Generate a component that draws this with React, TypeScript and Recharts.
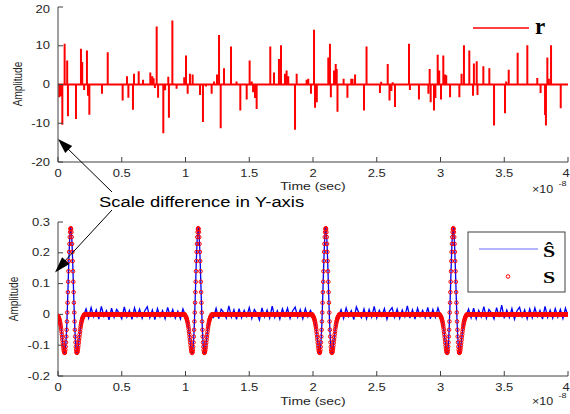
import React from 'react';
import { ComposedChart, Line, Scatter, XAxis, YAxis } from 'recharts';

// time axis is in units of 1e-8 s
const TIME_TICKS = [0, 0.5, 1, 1.5, 2, 2.5, 3, 3.5, 4];
const R_TICKS = [-20, -10, 0, 10, 20];
const S_TICKS = [-0.2, -0.1, 0, 0.1, 0.2, 0.3];

// r : sparse spikes (time, amplitude)
const SPIKE_T = [
  0.01, 0.02, 0.034, 0.052, 0.072, 0.078, 0.141, 0.18, 0.19, 0.205, 0.227, 0.235, 0.246, 0.345, 0.39,
  0.507, 0.541, 0.552, 0.588, 0.596, 0.633, 0.667, 0.724, 0.74, 0.75, 0.76, 0.774, 0.785, 0.826, 0.84,
  0.865, 0.87, 0.897, 0.93, 0.99, 1.004, 1.017, 1.035, 1.056, 1.114, 1.137, 1.16, 1.205, 1.224, 1.247,
  1.263, 1.276, 1.302, 1.357, 1.4, 1.43, 1.48, 1.503, 1.52, 1.53, 1.545, 1.558, 1.665, 1.694, 1.733,
  1.749, 1.78, 1.793, 1.806, 1.859, 1.872, 1.95, 1.963, 1.984, 2.008, 2.016, 2.03, 2.12, 2.133, 2.14,
  2.165, 2.178, 2.186, 2.192, 2.24, 2.27, 2.3, 2.31, 2.33, 2.4, 2.42, 2.525, 2.535, 2.586, 2.6, 2.615,
  2.625, 2.643, 2.753, 2.76, 2.831, 2.905, 2.915, 2.923, 2.949, 2.96, 2.978, 2.99, 3.004, 3.022, 3.035,
  3.045, 3.075, 3.148, 3.165, 3.184, 3.226, 3.255, 3.262, 3.284, 3.29, 3.336, 3.383, 3.42, 3.506, 3.515,
  3.535, 3.605, 3.681, 3.759, 3.785, 3.82, 3.827, 3.838, 3.85, 3.867, 3.943,
];
const SPIKE_V = [
  -3.3, -3.0, -10.4, 10.5, 6.2, -8.2, -8.9, 9.2, 5.8, -1.4, 8.8, -2.9, -7.8, -2.4, 8.3,
  -4.1, 2.1, -3.4, -6.5, 2.8, 3.4, 1.2, 3.1, 2.1, 1.6, -0.9, 15.0, -3.4, -12.6, -1.5,
  2.0, -8.6, 16.5, -1.1, 1.9, 7.5, -2.4, 2.8, 2.6, -2.7, -9.7, -0.5, -2.4, 0.8, 2.6,
  12.8, -11.3, 4.2, 9.8, 0.8, -6.7, -3.9, 6.2, 0.8, -2.0, -3.5, -6.3, 9.8, 3.1, 6.6,
  10.1, 2.8, 3.6, 2.1, -11.7, 2.8, 1.2, 1.5, -2.4, 14.1, -6.0, -4.6, 7.0, 10.5, -3.3,
  3.6, 5.3, 4.0, -7.0, 1.5, -3.4, 1.5, 1.5, 2.6, -6.7, 9.8, -2.2, 0.7, 5.3, -4.1, -1.7,
  0.6, -5.8, 10.5, -1.4, -3.9, -2.4, 4.0, -4.6, -6.7, -3.5, 7.7, 3.6, -3.9, 7.5, 2.6,
  2.4, -3.3, -3.3, 2.8, 10.1, 8.8, -2.9, 5.4, 6.0, -2.7, 4.7, 4.2, -10.6, -7.4, 0.8,
  3.8, 8.2, 10.1, 1.7, -2.2, -7.9, -10.6, 7.0, 1.5, 10.1, -6.1,
];

// s : one pulse shape, sampled every PULSE_STEP from -0.1 to +0.1 around each centre
const PULSE_CENTERS = [0.1, 1.1, 2.1, 3.1];
const PULSE_STEP = 0.0025;
const S_PULSE = [
  -0.005, -0.007, -0.009, -0.012, -0.015, -0.019, -0.023, -0.028, -0.034, -0.04,
  -0.048, -0.056, -0.065, -0.074, -0.083, -0.092, -0.101, -0.109, -0.116, -0.121,
  -0.124, -0.125, -0.122, -0.115, -0.105, -0.091, -0.072, -0.05, -0.023, 0.006,
  0.038, 0.072, 0.106, 0.14, 0.173, 0.203, 0.229, 0.251, 0.267, 0.277,
  0.28,
  0.277, 0.267, 0.251, 0.229, 0.203, 0.173, 0.14, 0.106, 0.072, 0.038,
  0.006, -0.023, -0.05, -0.072, -0.091, -0.105, -0.115, -0.122, -0.125, -0.124,
  -0.121, -0.116, -0.109, -0.101, -0.092, -0.083, -0.074, -0.065, -0.056, -0.048,
  -0.04, -0.034, -0.028, -0.023, -0.019, -0.015, -0.012, -0.009, -0.007, -0.005,
];
const FLAT_STEP = 0.005;

// s-hat : estimation noise between the pulses, every NOISE_STEP
const NOISE_STEP = 0.02;
const NOISE_1 = [0.018, -0.012, 0.022, -0.008, 0.015, -0.015, 0.026, -0.006, 0.012, -0.018, 0.02, -0.01, 0.016, 0.004, -0.014, 0.024, -0.009, 0.013, -0.016, 0.021, -0.007, 0.017, -0.013, 0.011, 0.025, -0.011, 0.014, -0.017, 0.019, -0.008, 0.012, -0.014, 0.023, -0.006, 0.016, -0.012, 0.01, -0.015, 0.018];
const NOISE_2 = [-0.01, 0.02, -0.014, 0.017, 0.006, -0.012, 0.028, -0.009, 0.015, -0.016, 0.019, -0.011, 0.013, -0.007, 0.022, -0.013, 0.016, 0.003, -0.018, 0.021, -0.008, 0.014, -0.012, 0.027, -0.01, 0.012, -0.015, 0.018, -0.006, 0.02, -0.013, 0.011, 0.024, -0.009, 0.015, -0.014, 0.019, -0.008, 0.013];
const NOISE_3 = [0.015, -0.013, 0.021, -0.007, 0.012, -0.017, 0.024, 0.005, -0.011, 0.018, -0.014, 0.016, -0.009, 0.026, -0.012, 0.013, -0.006, 0.019, -0.016, 0.011, 0.022, -0.01, 0.017, -0.013, 0.014, -0.008, 0.028, -0.012, 0.015, -0.015, 0.02, -0.007, 0.013, -0.011, 0.023, -0.014, 0.016, -0.009, 0.021];
const NOISE_4 = [0.017, -0.011, 0.02, -0.014, 0.013, -0.008, 0.025, -0.012, 0.016, 0.004, -0.015, 0.022, -0.009, 0.03, -0.013, 0.014, -0.01, 0.019, -0.016, 0.012, 0.023, -0.008, 0.015, -0.014, 0.018, -0.011, 0.021, -0.007, 0.013, -0.015, 0.026, -0.01, 0.014, -0.012, 0.019, -0.009, 0.016, -0.013, 0.02, -0.006];
const NOISE = [NOISE_1, NOISE_2, NOISE_3, NOISE_4];

// ---- tables for the charts ----
const rData: { t: number; v: number }[] = [{ t: 0, v: 0 }];
SPIKE_T.forEach((t, i) => {
  rData.push({ t, v: 0 }, { t, v: SPIKE_V[i] }, { t, v: 0 });
});
rData.push({ t: 4, v: 0 });

const half = (S_PULSE.length - 1) / 2;
const sData: { t: number; v: number }[] = [];
const shatData: { t: number; v: number }[] = [];
PULSE_CENTERS.forEach((c, k) => {
  S_PULSE.forEach((v, i) => {
    const t = c + (i - half) * PULSE_STEP;
    sData.push({ t, v });
    shatData.push({ t, v });
  });
  const end = k < PULSE_CENTERS.length - 1 ? PULSE_CENTERS[k + 1] - 0.1 - 1e-9 : 4 + 1e-9;
  for (let t = c + 0.1 + FLAT_STEP; t < end; t += FLAT_STEP) sData.push({ t, v: 0 });
  NOISE[k].forEach((v, j) => shatData.push({ t: c + 0.1 + NOISE_STEP * (j + 1), v }));
});

const FONT = '"Liberation Sans", Arial, Helvetica, sans-serif';
const SERIF = '"Liberation Serif", "Times New Roman", serif';
const SQ = 0.8; // the figure is squashed vertically
const INK = '#262626';
const AXIS = '#404040';

const XTick = ({ x, y, payload }: any) => (
  <text transform={`translate(${x},${y}) scale(1,${SQ})`} textAnchor="middle" dy="0.35em"
    fontSize={13} fontFamily={FONT} fill={INK}>{payload.value}</text>
);
const YTick = ({ x, y, payload }: any) => (
  <text transform={`translate(${x},${y}) scale(1,${SQ})`} textAnchor="end" dy="0.35em"
    fontSize={13} fontFamily={FONT} fill={INK}>{payload.value}</text>
);

const Ring = (p: any) => <circle cx={p.cx} cy={p.cy} r={1.8} fill="none" stroke="#ff0000" strokeWidth={1} />;

function arrowHead(x1: number, y1: number, x2: number, y2: number, len: number, w: number) {
  const dx = x2 - x1, dy = y2 - y1;
  const d = Math.hypot(dx, dy);
  const ux = dx / d, uy = dy / d;
  const bx = x2 - ux * len, by = y2 - uy * len;
  return `${x2},${y2} ${bx - uy * w},${by + ux * w} ${bx + uy * w},${by - ux * w}`;
}

const boxAxes = (xDomain: number[], yDomain: number[], xTicks: number[], yTicks: number[]) => [
  <XAxis key="xt" xAxisId="top" orientation="top" type="number" domain={xDomain} ticks={xTicks}
    allowDataOverflow height={0} tick={false} tickSize={-5} stroke={AXIS} />,
  <YAxis key="yr" yAxisId="right" orientation="right" type="number" domain={yDomain} ticks={yTicks}
    allowDataOverflow width={0} tick={false} tickSize={-5} stroke={AXIS} />,
];

const Amp = ({ x, y }: { x: number; y: number }) => (
  <text transform={`translate(${x},${y}) rotate(-90) scale(${SQ},1)`} textAnchor="middle" dy="0.35em"
    fontSize={12.5} fontFamily={FONT} fill={INK}>Amplitude</text>
);
const TimeLabel = ({ y }: { y: number }) => (
  <text transform={`translate(313,${y}) scale(1,${SQ})`} textAnchor="middle" dy="0.35em"
    fontSize={14} fontFamily={FONT} fill={INK}>Time (sec)</text>
);
const Exponent = ({ y }: { y: number }) => (
  <g fontFamily={FONT} fill={INK}>
    <text transform={`translate(532,${y}) scale(1,${SQ})`} dy="0.35em" fontSize={12.5}>×10</text>
    <text transform={`translate(558.5,${y - 6}) scale(1,${SQ})`} dy="0.35em" fontSize={9}>-8</text>
  </g>
);

export default function App() {
  return (
    <div style={{ position: 'absolute', left: 0, top: 0, width: 570, height: 414, background: '#fff', overflow: 'hidden' }}>
      <div style={{ position: 'absolute', left: 0, top: 0 }}>
        <ComposedChart width={570} height={200} margin={{ top: 7, right: 2, bottom: 8, left: 8 }}>
          <XAxis dataKey="t" type="number" domain={[0, 4]} ticks={TIME_TICKS} allowDataOverflow height={30}
            tickSize={-5} tickMargin={16} tick={XTick} stroke={AXIS} />
          <YAxis type="number" domain={[-20, 20]} ticks={R_TICKS} allowDataOverflow width={50}
            tickSize={-5} tickMargin={13} tick={YTick} stroke={AXIS} />
          {boxAxes([0, 4], [-20, 20], TIME_TICKS, R_TICKS)}
          <Line data={rData} dataKey="v" stroke="#ff0000" strokeWidth={2} dot={false} activeDot={false}
            isAnimationActive={false} />
        </ComposedChart>
      </div>
      <div style={{ position: 'absolute', left: 0, top: 200 }}>
        <ComposedChart width={570} height={214} margin={{ top: 22, right: 2, bottom: 8, left: 8 }}>
          <XAxis dataKey="t" type="number" domain={[0, 4]} ticks={TIME_TICKS} allowDataOverflow height={30}
            tickSize={-5} tickMargin={16} tick={XTick} stroke={AXIS} />
          <YAxis type="number" domain={[-0.2, 0.3]} ticks={S_TICKS} allowDataOverflow width={50}
            tickSize={-5} tickMargin={13} tick={YTick} stroke={AXIS} />
          {boxAxes([0, 4], [-0.2, 0.3], TIME_TICKS, S_TICKS)}
          <Line data={shatData} dataKey="v" stroke="#0000f0" strokeWidth={1.3} dot={false} activeDot={false}
            isAnimationActive={false} />
          <Scatter data={sData} dataKey="v" shape={Ring} isAnimationActive={false} />
        </ComposedChart>
      </div>
      <svg width={570} height={414} style={{ position: 'absolute', left: 0, top: 0, pointerEvents: 'none' }}>
        <Amp x={18} y={84} />
        <Amp x={13.5} y={299} />
        <TimeLabel y={186} />
        <TimeLabel y={401} />
        <Exponent y={189} />
        <Exponent y={401.5} />

        {/* legend of r */}
        <line x1={473} y1={28} x2={529} y2={28} stroke="#ff0000" strokeWidth={1.3} />
        <text x={535} y={34} fontSize={23} fontWeight="bold" fontFamily={SERIF} fill="#000">r</text>

        {/* legend of s-hat and s */}
        <rect x={468} y={232} width={97} height={60} fill="#fff" stroke={AXIS} strokeWidth={1} />
        <line x1={479} y1={249} x2={538} y2={249} stroke="#6a6aff" strokeWidth={1.2} />
        <text transform="translate(543,257) scale(1,0.8)" fontSize={22} fontWeight="bold" fontFamily={SERIF} fill="#000">Ŝ</text>
        <circle cx={508} cy={276.5} r={1.8} fill="none" stroke="#ff0000" strokeWidth={1} />
        <text transform="translate(543,283) scale(1,0.8)" fontSize={22} fontWeight="bold" fontFamily={SERIF} fill="#000">S</text>

        {/* annotation */}
        <text transform="translate(99,206.7) scale(1,0.76)" fontSize={18.4} fontFamily={FONT} fill="#000">Scale difference in Y-axis</text>
        <line x1={112} y1={192} x2={64} y2={145} stroke="#000" strokeWidth={1} />
        <polygon points={arrowHead(112, 192, 58, 139, 15, 5)} fill="#000" />
        <line x1={112} y1={210} x2={63} y2={263} stroke="#000" strokeWidth={1} />
        <polygon points={arrowHead(112, 210, 55, 272.5, 16, 5)} fill="#000" />
      </svg>
    </div>
  );
}
